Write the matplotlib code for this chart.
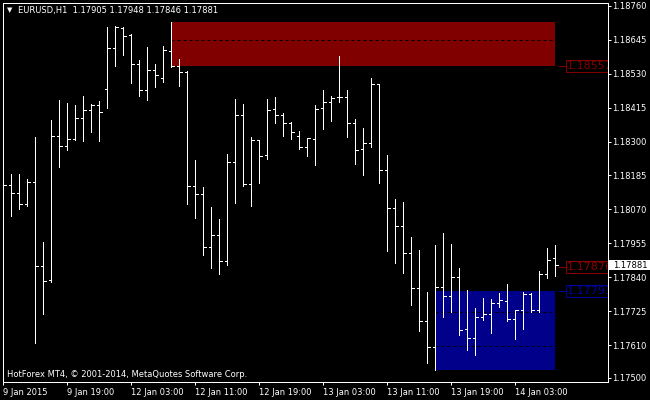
import matplotlib
matplotlib.use("Agg")
import matplotlib.pyplot as plt
from matplotlib.patches import Rectangle
import numpy as np

# EURUSD H1 bars, 9 Jan 11:00 .. 14 Jan 08:00
opens = [1.18136, 1.18153, 1.18124, 1.18088, 1.18162, 1.17877, 1.17830, 1.18318, 1.18284, 1.18309,
         1.18379, 1.18407, 1.18424, 1.18477, 1.18616, 1.18686, 1.18661, 1.18563, 1.18473, 1.18541,
         1.18515, 1.18605, 1.18555, 1.18535, 1.18149, 1.18122, 1.17942, 1.17982, 1.17894, 1.18230,
         1.18389, 1.18157, 1.18304, 1.18253, 1.18409, 1.18389, 1.18362, 1.18318, 1.18283, 1.18307,
         1.18412, 1.18433, 1.18450, 1.18450, 1.18362, 1.18273, 1.18294, 1.18495, 1.18202, 1.18074,
         1.18013, 1.17922, 1.17804, 1.17691, 1.17603, 1.17807, 1.17777, 1.17841, 1.17665, 1.17633,
         1.17705, 1.17716, 1.17752, 1.17759, 1.17698, 1.17728, 1.17784, 1.17728, 1.17850, 1.17905]
highs = [1.18192, 1.18190, 1.18190, 1.18173, 1.18316, 1.17960, 1.18373, 1.18441, 1.18430, 1.18424,
         1.18454, 1.18427, 1.18438, 1.18689, 1.18692, 1.18687, 1.18664, 1.18576, 1.18620, 1.18563,
         1.18624, 1.18705, 1.18579, 1.18539, 1.18237, 1.18146, 1.18078, 1.18038, 1.18258, 1.18444,
         1.18427, 1.18315, 1.18305, 1.18444, 1.18451, 1.18397, 1.18366, 1.18336, 1.18313, 1.18424,
         1.18474, 1.18454, 1.18590, 1.18474, 1.18376, 1.18346, 1.18515, 1.18495, 1.18254, 1.18105,
         1.18095, 1.17977, 1.17934, 1.17790, 1.17950, 1.17990, 1.17953, 1.17872, 1.17797, 1.17736,
         1.17770, 1.17767, 1.17787, 1.17817, 1.17729, 1.17789, 1.17786, 1.17861, 1.17940, 1.17948]
lows = [1.17966, 1.18049, 1.18071, 1.18083, 1.17616, 1.17716, 1.17825, 1.18215, 1.18272, 1.18305,
        1.18303, 1.18333, 1.18303, 1.18415, 1.18557, 1.18594, 1.18499, 1.18455, 1.18442, 1.18486,
        1.18503, 1.18551, 1.18488, 1.18089, 1.18042, 1.17917, 1.17873, 1.17852, 1.17883, 1.18093,
        1.18150, 1.18083, 1.18161, 1.18242, 1.18364, 1.18320, 1.18310, 1.18276, 1.18252, 1.18222,
        1.18344, 1.18371, 1.18435, 1.18316, 1.18225, 1.18188, 1.18283, 1.18161, 1.17930, 1.17890,
        1.17856, 1.17747, 1.17659, 1.17551, 1.17525, 1.17707, 1.17723, 1.17645, 1.17595, 1.17578,
        1.17697, 1.17653, 1.17741, 1.17693, 1.17632, 1.17666, 1.17723, 1.17721, 1.17839, 1.17846]
closes = [1.18153, 1.18124, 1.18088, 1.18162, 1.17877, 1.17826, 1.18318, 1.18284, 1.18309, 1.18379,
          1.18407, 1.18424, 1.18399, 1.18616, 1.18689, 1.18656, 1.18563, 1.18473, 1.18541, 1.18525,
          1.18609, 1.18555, 1.18535, 1.18149, 1.18122, 1.17942, 1.17982, 1.17894, 1.18230, 1.18389,
          1.18157, 1.18304, 1.18250, 1.18406, 1.18389, 1.18362, 1.18331, 1.18283, 1.18311, 1.18409,
          1.18433, 1.18446, 1.18450, 1.18362, 1.18271, 1.18294, 1.18495, 1.18202, 1.18074, 1.18013,
          1.17922, 1.17804, 1.17691, 1.17603, 1.17807, 1.17777, 1.17841, 1.17660, 1.17633, 1.17705,
          1.17716, 1.17752, 1.17762, 1.17698, 1.17728, 1.17784, 1.17728, 1.17850, 1.17898, 1.17881]

time_labels = ["9 Jan 2015", "9 Jan 19:00", "12 Jan 03:00", "12 Jan 11:00", "12 Jan 19:00",
               "13 Jan 03:00", "13 Jan 11:00", "13 Jan 19:00", "14 Jan 03:00"]
time_ticks = [0, 8, 16, 24, 32, 40, 48, 56, 64]
price_ticks = [1.18760, 1.18645, 1.18530, 1.18415, 1.18300, 1.18185, 1.18070, 1.17955,
               1.17840, 1.17725, 1.17610, 1.17500]

# supply / demand zones: start bar, end bar, bottom, top, dashed levels
supply_zone = (21, 69, 1.18557, 1.18705, [1.18643])
demand_zone = (54, 69, 1.17525, 1.17793, [1.17722, 1.17606])
price_labels = [(1.18557, "#800000"), (1.17876, "#8b0000"), (1.17793, "#0000a0")]
last_price = 1.17881

px = 0.72  # one pixel in points
fig = plt.figure(figsize=(6.5, 4), dpi=100, facecolor="black")
ax = fig.add_axes([2.7 / 650, 18 / 400, 605 / 650, 379.3 / 400])
ax.set_facecolor("black")

x = np.arange(len(opens))

# zones
for (x0, x1, lo, hi, levels), col in [(supply_zone, "#800000"), (demand_zone, "#00008b")]:
    ax.add_patch(Rectangle((x0, lo), x1 - x0, hi - lo, facecolor=col, edgecolor="none",
                           zorder=1, antialiased=False))
    for lv in levels:
        ax.hlines(lv, x0, x1, colors="black", linewidth=px, linestyles=(0, (3, 3)), zorder=2)

# OHLC bars
ax.vlines(x, lows, highs, colors="white", linewidth=px, zorder=3, antialiased=False)
ax.hlines(opens, x - 0.32, x, colors="white", linewidth=px, zorder=3, antialiased=False)
ax.hlines(closes, x, x + 0.32, colors="white", linewidth=px, zorder=3, antialiased=False)

ax.set_xlim(-0.075, 75.55)
ax.set_ylim(1.174854, 1.187702)

# price labels at the right side
box_x0 = 70.34
half_h = 0.000203
for price, col in price_labels:
    ax.hlines(price, 69.3, box_x0, colors=col, linewidth=px, zorder=3)
    ax.add_patch(Rectangle((box_x0, price - half_h), 75.55 - box_x0, 2 * half_h,
                           facecolor="black", edgecolor=col, linewidth=px, zorder=4))
    ax.text(box_x0 + 0.12, price, f"{price:.5f}", color=col, fontsize=8, va="center",
            ha="left", zorder=5, clip_on=True)

for s in ax.spines.values():
    s.set_color("white")
    s.set_linewidth(px)
ax.spines["left"].set_zorder(6)

ax.yaxis.tick_right()
ax.set_yticks(price_ticks)
ax.set_yticklabels([f"{p:.5f}" for p in price_ticks])
ax.tick_params(axis="y", colors="white", length=1.8, width=px, pad=1.5, labelsize=6)

ax.set_xticks(time_ticks)
ax.set_xticklabels(time_labels)
for lab in ax.get_xticklabels():
    lab.set_ha("left")
ax.tick_params(axis="x", colors="white", length=2.2, width=px, pad=2, labelsize=6)

# current bid label on the price scale
ax.add_patch(Rectangle((1.0, last_price - 0.000175), 0.0704, 0.00035, transform=ax.get_yaxis_transform(),
                       facecolor="white", edgecolor="none", clip_on=False, zorder=7))
ax.text(1.0083, last_price, f"{last_price:.5f}", transform=ax.get_yaxis_transform(),
        color="black", fontsize=6, va="center", ha="left", clip_on=False, zorder=8)

fig.text(9.2 / 650, 1 - 10.5 / 400, "\u25bc", color="white", fontsize=5, ha="center", va="center")
fig.text(18.3 / 650, 1 - 11 / 400, "EURUSD,H1  1.17905 1.17948 1.17846 1.17881",
         color="white", fontsize=6, va="center")
fig.text(7.3 / 650, 1 - 374.7 / 400, "HotForex MT4, \u00a9 2001-2014, MetaQuotes Software Corp.",
         color="white", fontsize=6, va="center")

plt.savefig("out.png", dpi=100, facecolor="black")
